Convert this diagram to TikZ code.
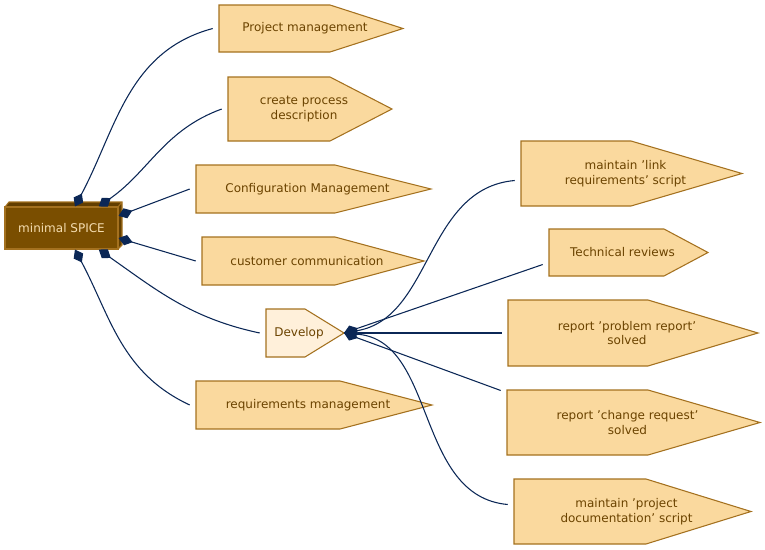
\documentclass[tikz,border=0pt]{standalone}
\usepackage{fontspec}
\setmainfont{DejaVu Sans}
\usetikzlibrary{arrows.meta,calc}
\definecolor{pentfill}{HTML}{FAD99E}
\definecolor{pentdraw}{HTML}{A4711F}
\definecolor{penttext}{HTML}{6B4300}
\definecolor{rootfill}{HTML}{7A4E00}
\definecolor{roottext}{HTML}{F5DDB0}
\definecolor{devfill}{HTML}{FFF0DA}
\definecolor{linkblue}{HTML}{0B2756}
\tikzset{
  pentline/.style={draw=pentdraw,line width=0.8pt},
  pentlabel/.style={draw=none,align=center,text=penttext,font=\fontsize{9}{11}\selectfont},
  link/.style={draw=linkblue,line width=0.8pt,{Diamond[length=11pt,width=8pt]}-},
}
% name, x1, x2, x3, y1, y2, fill, text
\newcommand{\pent}[8]{%
  \draw[pentline,fill=#7] (#2,#5) -- (#3,#5) -- (#4,{(#5+#6)/2}) -- (#3,#6) -- (#2,#6) -- cycle;
  \node[pentlabel,minimum width={(#4-#2)*0.75pt},minimum height={(#6-#5)*0.75pt},inner sep=0pt]
    (#1) at ({(#2+#4)/2-6},{(#5+#6)/2}) {#8};
}

\begin{document}
\begin{tikzpicture}[x=0.75pt,y=-0.75pt]
\useasboundingbox (0,0) rectangle (765,550);

% Root node
\fill[rootfill!80!black] (5,207) -- (9,202) -- (122,202) -- (122,245) -- (118,249) -- (118,207) -- cycle;
\draw[pentdraw,line width=0.8pt] (5,207) -- (9,202) -- (122,202) -- (122,245) -- (118,249) (118,207) -- (122,202);
\node[draw=pentdraw,fill=rootfill,line width=0.8pt,text=roottext,font=\fontsize{9}{11}\selectfont,
  minimum width=113*0.75pt,minimum height=42*0.75pt,inner sep=0pt] (root) at (61.5,228) {minimal SPICE};

% First level
\pent{pm}{219}{330}{403}{5}{52}{pentfill}{Project management}
\pent{cpd}{228}{330}{392}{77}{141}{pentfill}{create process\\description}
\pent{cm}{196}{335}{431}{165}{213}{pentfill}{Configuration Management}
\pent{cc}{202}{335}{424}{237}{285}{pentfill}{customer communication}
\pent{dev}{266}{305}{344}{309}{357}{devfill}{Develop}
\pent{req}{196}{340}{432}{381}{429}{pentfill}{requirements management}

% Second level
\pent{link}{521}{631}{742}{141}{206}{pentfill}{maintain 'link\\requirements' script}
\pent{tech}{549}{664}{708}{229}{276}{pentfill}{Technical reviews}
\pent{prob}{508}{648}{758}{300}{366}{pentfill}{report 'problem report'\\solved}
\pent{chg}{507}{648}{760}{390}{455}{pentfill}{report 'change request'\\solved}
\pent{doc}{514}{646}{751}{479}{544}{pentfill}{maintain 'project\\documentation' script}

\coordinate (devtip) at (344,333);

% Connections from root
\draw[link] (root.58) to[out=62,in=195] (pm.west);
\draw[link] (root.30) to[out=35,in=200] (cpd.west);
\draw[link] (root.12) -- (cm.west);
\draw[link] (root.-10) -- (cc.west);
\draw[link] (root.-30) to[out=-35,in=168] (dev.west);
\draw[link] (root.-58) to[out=-62,in=155] (req.west);

% Connections from Develop
\draw[link] (devtip) to[out=10,in=185] ($(link.west)+(0,7)$);
\draw[link] (devtip) -- ($(tech.west)+(0,12)$);
\draw[link] (devtip) -- (prob.west);
\draw[link] (devtip) -- ($(chg.west)+(0,-32)$);
\draw[link] (devtip) to[out=-5,in=175] ($(doc.west)+(0,-7)$);

\end{tikzpicture}
\end{document}
